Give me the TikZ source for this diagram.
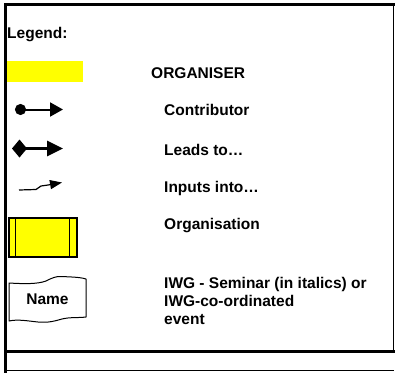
\documentclass[tikz,border=0pt]{standalone}
\usepackage{fontspec}
\setmainfont{Liberation Sans}
\usetikzlibrary{arrows.meta}
\definecolor{orgyellow}{RGB}{255,255,0}
\tikzset{
  label/.style={anchor=west, inner sep=0pt, font=\fontsize{15.5}{18}\selectfont\bfseries},
  thickrule/.style={line width=3pt, line cap=rect},
  thinrule/.style={line width=1pt},
  contrib/.style={line width=2pt, {Circle[length=11pt]}-{Triangle[length=13pt,width=14pt]}},
  leads/.style={line width=3pt, {Diamond[length=15pt,width=18pt]}-{Triangle[length=16pt,width=15pt]}},
  inputs/.style={line width=1.2pt, -{Triangle[length=12pt,width=9pt]}},
  orgbox/.style={draw, line width=1.5pt, fill=orgyellow},
}
\begin{document}
\begin{tikzpicture}[x=1pt,y=-1pt]
\useasboundingbox (0,0) rectangle (395,372);

% outer frame
\coordinate (tl) at (5.5,4.5);
\coordinate (tr) at (393,4.5);
\coordinate (bl) at (5.5,372);
\coordinate (ml) at (5.5,351.5);
\coordinate (mr) at (393,351.5);
\coordinate (fl) at (5.5,370.5);
\coordinate (fr) at (394,370.5);
\draw[thickrule] (bl) -- (tl) -- (tr);
\draw[thinrule] (tr) -- (mr);
\draw[thickrule] (ml) -- (mr);
\draw[thinrule] (fl) -- (fr);

% title
\node[label] (legend) at (7,35) {Legend:};

% organiser swatch
\node[fill=orgyellow, minimum width=76pt, minimum height=21pt, inner sep=0pt, anchor=north west] (swatch) at (7,61) {};
\node[label] (organiser) at (151,73) {ORGANISER};

% contributor arrow
\coordinate (ca) at (15,109.5);
\coordinate (cb) at (63,109.5);
\draw[contrib] (ca) -- (cb);
\node[label] (contributor) at (164,110) {Contributor};

% leads-to arrow
\coordinate (la) at (12,148.5);
\coordinate (lb) at (63,148.5);
\draw[leads] (la) -- (lb);
\node[label] (leadsto) at (164,150) {Leads to\dots};

% inputs-into arrow
\coordinate (ia) at (19,190);
\coordinate (ib) at (62,182.5);
\draw[inputs] (ia) -- (36,189.5) -- (41,186) -- (48,185) -- (ib);
\node[label] (inputsinto) at (164,188) {Inputs into\dots};

% organisation box
\node[orgbox, minimum width=68pt, minimum height=39pt, inner sep=0pt, anchor=north west] (orgbox) at (8,217) {};
\draw[line width=1.5pt] ([xshift=7.5pt]orgbox.north west) -- ([xshift=7.5pt]orgbox.south west);
\draw[line width=1.5pt] ([xshift=-8pt]orgbox.north east) -- ([xshift=-8pt]orgbox.south east);
\node[label] (organisation) at (164,226) {Organisation};

% seminar / event symbol
\draw[line width=1pt, line join=round]
  (9,283) .. controls (25,284) and (38,284) .. (46,281)
  .. controls (52,278) and (56,276) .. (62,276.5)
  .. controls (70,277) and (80,277) .. (86,279)
  -- (86,317)
  .. controls (78,318) and (70,317) .. (62,319)
  .. controls (55,321) and (48,323) .. (38,322)
  .. controls (28,321) and (18,319) .. (9,321)
  -- cycle;
\node[label, anchor=center] (name) at (47.5,299) {Name};
\node[label, anchor=north west, align=left] (seminar) at (164,277.5) {IWG - Seminar (in italics) or\\IWG-co-ordinated\\event};
\end{tikzpicture}
\end{document}
